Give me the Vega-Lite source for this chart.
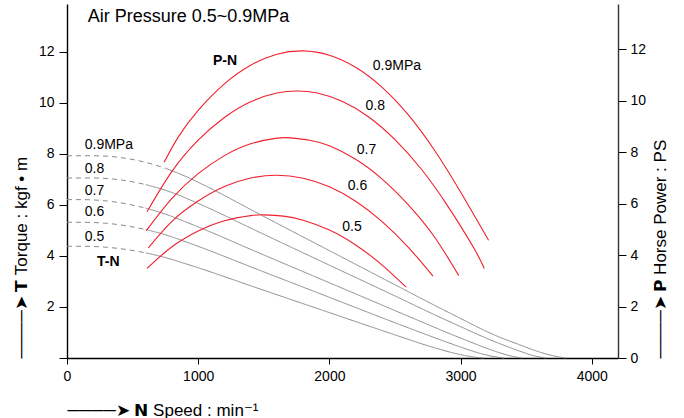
{
  "$schema": "https://vega.github.io/schema/vega-lite/v6.json",
  "width": 551,
  "height": 354,
  "autosize": "none",
  "padding": {"left": 67, "top": 4, "right": 66, "bottom": 60},
  "background": "white",
  "config": {
    "view": {"stroke": null},
    "font": "Liberation Sans",
    "axis": {
      "grid": false,
      "labelFlush": false,
      "labelOverlap": false,
      "domainColor": "#000",
      "domainWidth": 1.4,
      "tickColor": "#000",
      "tickWidth": 1,
      "labelColor": "#000",
      "titleColor": "#000",
      "labelFont": "Liberation Sans",
      "titleFont": "Liberation Sans",
      "labelFontSize": 14,
      "titleFontSize": 17,
      "titleFontWeight": "normal"
    }
  },
  "datasets": {
    "torque": [
      {"p": "0.9", "seg": "dashed", "N": 0, "T": 7.93},
      {"p": "0.9", "seg": "dashed", "N": 200, "T": 7.93},
      {"p": "0.9", "seg": "dashed", "N": 400, "T": 7.865},
      {"p": "0.9", "seg": "dashed", "N": 600, "T": 7.67},
      {"p": "0.9", "seg": "dashed", "N": 750, "T": 7.44},
      {"p": "0.9", "seg": "solid", "N": 750, "T": 7.44},
      {"p": "0.9", "seg": "solid", "N": 900, "T": 7.13},
      {"p": "0.9", "seg": "solid", "N": 1024, "T": 6.83},
      {"p": "0.9", "seg": "solid", "N": 1500, "T": 5.55},
      {"p": "0.9", "seg": "solid", "N": 2000, "T": 4.21},
      {"p": "0.9", "seg": "solid", "N": 2534, "T": 2.78},
      {"p": "0.9", "seg": "solid", "N": 2800, "T": 2.07},
      {"p": "0.9", "seg": "solid", "N": 3042, "T": 1.44},
      {"p": "0.9", "seg": "solid", "N": 3150, "T": 1.16},
      {"p": "0.9", "seg": "solid", "N": 3296, "T": 0.82},
      {"p": "0.9", "seg": "solid", "N": 3450, "T": 0.52},
      {"p": "0.9", "seg": "solid", "N": 3547, "T": 0.33},
      {"p": "0.9", "seg": "solid", "N": 3650, "T": 0.16},
      {"p": "0.9", "seg": "solid", "N": 3750, "T": 0.04},
      {"p": "0.9", "seg": "solid", "N": 3800, "T": 0},
      {"p": "0.8", "seg": "dashed", "N": 0, "T": 7.06},
      {"p": "0.8", "seg": "dashed", "N": 187, "T": 7.06},
      {"p": "0.8", "seg": "dashed", "N": 400, "T": 6.99},
      {"p": "0.8", "seg": "dashed", "N": 600, "T": 6.8},
      {"p": "0.8", "seg": "solid", "N": 600, "T": 6.8},
      {"p": "0.8", "seg": "solid", "N": 800, "T": 6.49},
      {"p": "0.8", "seg": "solid", "N": 987, "T": 6.09},
      {"p": "0.8", "seg": "solid", "N": 1500, "T": 4.85},
      {"p": "0.8", "seg": "solid", "N": 2000, "T": 3.64},
      {"p": "0.8", "seg": "solid", "N": 2534, "T": 2.35},
      {"p": "0.8", "seg": "solid", "N": 2800, "T": 1.7},
      {"p": "0.8", "seg": "solid", "N": 3000, "T": 1.23},
      {"p": "0.8", "seg": "solid", "N": 3200, "T": 0.77},
      {"p": "0.8", "seg": "solid", "N": 3350, "T": 0.46},
      {"p": "0.8", "seg": "solid", "N": 3450, "T": 0.27},
      {"p": "0.8", "seg": "solid", "N": 3550, "T": 0.1},
      {"p": "0.8", "seg": "solid", "N": 3650, "T": 0},
      {"p": "0.7", "seg": "dashed", "N": 0, "T": 6.21},
      {"p": "0.7", "seg": "dashed", "N": 105, "T": 6.21},
      {"p": "0.7", "seg": "dashed", "N": 300, "T": 6.158},
      {"p": "0.7", "seg": "dashed", "N": 450, "T": 6.048},
      {"p": "0.7", "seg": "dashed", "N": 600, "T": 5.876},
      {"p": "0.7", "seg": "solid", "N": 600, "T": 5.876},
      {"p": "0.7", "seg": "solid", "N": 750, "T": 5.643},
      {"p": "0.7", "seg": "solid", "N": 905, "T": 5.337},
      {"p": "0.7", "seg": "solid", "N": 1500, "T": 4.04},
      {"p": "0.7", "seg": "solid", "N": 2000, "T": 2.95},
      {"p": "0.7", "seg": "solid", "N": 2400, "T": 2.078},
      {"p": "0.7", "seg": "solid", "N": 2700, "T": 1.424},
      {"p": "0.7", "seg": "solid", "N": 2900, "T": 0.99},
      {"p": "0.7", "seg": "solid", "N": 3050, "T": 0.68},
      {"p": "0.7", "seg": "solid", "N": 3200, "T": 0.38},
      {"p": "0.7", "seg": "solid", "N": 3300, "T": 0.2},
      {"p": "0.7", "seg": "solid", "N": 3400, "T": 0.06},
      {"p": "0.7", "seg": "solid", "N": 3470, "T": 0},
      {"p": "0.6", "seg": "dashed", "N": 0, "T": 5.32},
      {"p": "0.6", "seg": "dashed", "N": 123, "T": 5.32},
      {"p": "0.6", "seg": "dashed", "N": 300, "T": 5.281},
      {"p": "0.6", "seg": "dashed", "N": 450, "T": 5.187},
      {"p": "0.6", "seg": "dashed", "N": 600, "T": 5.037},
      {"p": "0.6", "seg": "solid", "N": 600, "T": 5.037},
      {"p": "0.6", "seg": "solid", "N": 750, "T": 4.831},
      {"p": "0.6", "seg": "solid", "N": 923, "T": 4.523},
      {"p": "0.6", "seg": "solid", "N": 1500, "T": 3.375},
      {"p": "0.6", "seg": "solid", "N": 2000, "T": 2.38},
      {"p": "0.6", "seg": "solid", "N": 2600, "T": 1.186},
      {"p": "0.6", "seg": "solid", "N": 2800, "T": 0.8},
      {"p": "0.6", "seg": "solid", "N": 2950, "T": 0.52},
      {"p": "0.6", "seg": "solid", "N": 3050, "T": 0.34},
      {"p": "0.6", "seg": "solid", "N": 3150, "T": 0.18},
      {"p": "0.6", "seg": "solid", "N": 3250, "T": 0.06},
      {"p": "0.6", "seg": "solid", "N": 3330, "T": 0},
      {"p": "0.5", "seg": "dashed", "N": 0, "T": 4.38},
      {"p": "0.5", "seg": "dashed", "N": 114, "T": 4.38},
      {"p": "0.5", "seg": "dashed", "N": 300, "T": 4.342},
      {"p": "0.5", "seg": "dashed", "N": 450, "T": 4.257},
      {"p": "0.5", "seg": "dashed", "N": 600, "T": 4.122},
      {"p": "0.5", "seg": "solid", "N": 600, "T": 4.122},
      {"p": "0.5", "seg": "solid", "N": 750, "T": 3.938},
      {"p": "0.5", "seg": "solid", "N": 914, "T": 3.68},
      {"p": "0.5", "seg": "solid", "N": 1500, "T": 2.655},
      {"p": "0.5", "seg": "solid", "N": 2000, "T": 1.78},
      {"p": "0.5", "seg": "solid", "N": 2400, "T": 1.08},
      {"p": "0.5", "seg": "solid", "N": 2585, "T": 0.76},
      {"p": "0.5", "seg": "solid", "N": 2750, "T": 0.48},
      {"p": "0.5", "seg": "solid", "N": 2850, "T": 0.33},
      {"p": "0.5", "seg": "solid", "N": 2950, "T": 0.19},
      {"p": "0.5", "seg": "solid", "N": 3050, "T": 0.08},
      {"p": "0.5", "seg": "solid", "N": 3120, "T": 0.025},
      {"p": "0.5", "seg": "solid", "N": 3180, "T": 0}
    ],
    "power": [
      {"p": "0.9", "N": 740, "P": 7.6},
      {"p": "0.9", "N": 850, "P": 8.6},
      {"p": "0.9", "N": 1000, "P": 9.62},
      {"p": "0.9", "N": 1200, "P": 10.65},
      {"p": "0.9", "N": 1400, "P": 11.37},
      {"p": "0.9", "N": 1600, "P": 11.8},
      {"p": "0.9", "N": 1800, "P": 11.93},
      {"p": "0.9", "N": 2000, "P": 11.76},
      {"p": "0.9", "N": 2200, "P": 11.29},
      {"p": "0.9", "N": 2400, "P": 10.52},
      {"p": "0.9", "N": 2600, "P": 9.45},
      {"p": "0.9", "N": 2800, "P": 8.08},
      {"p": "0.9", "N": 3000, "P": 6.45},
      {"p": "0.9", "N": 3214, "P": 4.57},
      {"p": "0.8", "N": 610, "P": 5.68},
      {"p": "0.8", "N": 800, "P": 7.25},
      {"p": "0.8", "N": 1000, "P": 8.46},
      {"p": "0.8", "N": 1200, "P": 9.34},
      {"p": "0.8", "N": 1400, "P": 9.95},
      {"p": "0.8", "N": 1600, "P": 10.29},
      {"p": "0.8", "N": 1750, "P": 10.37},
      {"p": "0.8", "N": 1900, "P": 10.3},
      {"p": "0.8", "N": 2100, "P": 9.96},
      {"p": "0.8", "N": 2300, "P": 9.36},
      {"p": "0.8", "N": 2500, "P": 8.48},
      {"p": "0.8", "N": 2700, "P": 7.34},
      {"p": "0.8", "N": 2900, "P": 5.92},
      {"p": "0.8", "N": 3100, "P": 4.28},
      {"p": "0.8", "N": 3181, "P": 3.48},
      {"p": "0.7", "N": 605, "P": 4.95},
      {"p": "0.7", "N": 800, "P": 6.2},
      {"p": "0.7", "N": 1000, "P": 7.16},
      {"p": "0.7", "N": 1200, "P": 7.86},
      {"p": "0.7", "N": 1400, "P": 8.32},
      {"p": "0.7", "N": 1600, "P": 8.54},
      {"p": "0.7", "N": 1700, "P": 8.55},
      {"p": "0.7", "N": 1850, "P": 8.46},
      {"p": "0.7", "N": 2000, "P": 8.24},
      {"p": "0.7", "N": 2200, "P": 7.72},
      {"p": "0.7", "N": 2400, "P": 6.96},
      {"p": "0.7", "N": 2600, "P": 5.96},
      {"p": "0.7", "N": 2800, "P": 4.71},
      {"p": "0.7", "N": 2986, "P": 3.2},
      {"p": "0.6", "N": 620, "P": 4.28},
      {"p": "0.6", "N": 800, "P": 5.31},
      {"p": "0.6", "N": 1000, "P": 6.1},
      {"p": "0.6", "N": 1200, "P": 6.66},
      {"p": "0.6", "N": 1400, "P": 6.99},
      {"p": "0.6", "N": 1600, "P": 7.1},
      {"p": "0.6", "N": 1800, "P": 6.98},
      {"p": "0.6", "N": 2000, "P": 6.65},
      {"p": "0.6", "N": 2200, "P": 6.09},
      {"p": "0.6", "N": 2400, "P": 5.31},
      {"p": "0.6", "N": 2600, "P": 4.31},
      {"p": "0.6", "N": 2790, "P": 3.18},
      {"p": "0.5", "N": 610, "P": 3.48},
      {"p": "0.5", "N": 800, "P": 4.32},
      {"p": "0.5", "N": 1000, "P": 4.93},
      {"p": "0.5", "N": 1200, "P": 5.33},
      {"p": "0.5", "N": 1400, "P": 5.53},
      {"p": "0.5", "N": 1500, "P": 5.56},
      {"p": "0.5", "N": 1650, "P": 5.51},
      {"p": "0.5", "N": 1800, "P": 5.35},
      {"p": "0.5", "N": 2000, "P": 4.97},
      {"p": "0.5", "N": 2200, "P": 4.39},
      {"p": "0.5", "N": 2400, "P": 3.62},
      {"p": "0.5", "N": 2585, "P": 2.75}
    ],
    "labels": [
      {"label": "0.9MPa", "N": 135, "T": 8.34},
      {"label": "0.8", "N": 135, "T": 7.41},
      {"label": "0.7", "N": 135, "T": 6.56},
      {"label": "0.6", "N": 135, "T": 5.72},
      {"label": "0.5", "N": 135, "T": 4.75},
      {"label": "0.9MPa", "N": 2331, "T": 11.44},
      {"label": "0.8", "N": 2275, "T": 9.89},
      {"label": "0.7", "N": 2209, "T": 8.17},
      {"label": "0.6", "N": 2140, "T": 6.76},
      {"label": "0.5", "N": 2098, "T": 5.14}
    ],
    "boldlabels": [
      {"label": "T-N", "N": 229, "T": 3.75},
      {"label": "P-N", "N": 1112, "T": 11.66}
    ],
    "heading": [
      {"label": "Air Pressure 0.5~0.9MPa", "N": 158, "T": 13.38}
    ]
  },
  "layer": [
    {
      "layer": [
        {
          "data": {"name": "torque"},
          "mark": {"type": "line", "color": "#8a8a8a", "strokeWidth": 1, "interpolate": "monotone"},
          "encoding": {
            "x": {
              "field": "N", "type": "quantitative",
              "scale": {"domain": [0, 4200], "nice": false, "zero": false},
              "axis": {
                "values": [0, 1000, 2000, 3000, 4000],
                "format": "d",
                "tickSize": 6,
                "labelPadding": 5,
                "title": "────➤  𝗡 Speed : min⁻¹",
                "titleX": 0,
                "titleY": 57,
                "titleAlign": "left",
                "titleBaseline": "alphabetic",
                "titleAnchor": null
              }
            },
            "y": {
              "field": "T", "type": "quantitative",
              "scale": {"domain": [0, 13.88], "nice": false},
              "axis": {
                "values": [0, 2, 4, 6, 8, 10, 12],
                "labelExpr": "datum.value == 0 ? '' : datum.label",
                "tickSize": 8,
                "labelPadding": 5,
                "title": "────➤  𝗧 Torque : kgf • m",
                "titleAngle": -90,
                "titleX": -46,
                "titleY": 354,
                "titleAlign": "left",
                "titleBaseline": "middle"
              }
            },
            "detail": {"field": "p"},
            "strokeDash": {
              "field": "seg", "type": "nominal",
              "scale": {"domain": ["dashed", "solid"], "range": [[5, 4], [1, 0]]},
              "legend": null
            }
          }
        },
        {
          "data": {"name": "labels"},
          "mark": {"type": "text", "align": "left", "baseline": "middle", "fontSize": 14, "font": "Liberation Sans", "color": "#000"},
          "encoding": {
            "x": {"field": "N", "type": "quantitative"},
            "y": {"field": "T", "type": "quantitative"},
            "text": {"field": "label"}
          }
        },
        {
          "data": {"name": "boldlabels"},
          "mark": {"type": "text", "align": "left", "baseline": "middle", "fontSize": 14, "fontWeight": "bold", "font": "Liberation Sans", "color": "#000"},
          "encoding": {
            "x": {"field": "N", "type": "quantitative"},
            "y": {"field": "T", "type": "quantitative"},
            "text": {"field": "label"}
          }
        },
        {
          "data": {"name": "heading"},
          "mark": {"type": "text", "align": "left", "baseline": "middle", "fontSize": 18, "font": "Liberation Sans", "color": "#000"},
          "encoding": {
            "x": {"field": "N", "type": "quantitative"},
            "y": {"field": "T", "type": "quantitative"},
            "text": {"field": "label"}
          }
        }
      ]
    },
    {
      "data": {"name": "power"},
      "mark": {"type": "line", "color": "#f0202c", "strokeWidth": 1.1, "interpolate": "natural"},
      "encoding": {
        "x": {"field": "N", "type": "quantitative"},
        "y": {
          "field": "P", "type": "quantitative",
          "scale": {"domain": [0, 13.75], "nice": false},
          "axis": {
            "orient": "right",
            "values": [0, 2, 4, 6, 8, 10, 12],
            "tickSize": 8,
            "labelPadding": 4,
            "domainColor": "#333",
            "title": "────➤  𝗣 Horse Power : PS",
            "titleAngle": -90,
            "titleX": 42,
            "titleY": 354,
            "titleAlign": "left",
            "titleBaseline": "middle"
          }
        },
        "detail": {"field": "p"}
      }
    }
  ],
  "resolve": {"scale": {"y": "independent"}}
}
